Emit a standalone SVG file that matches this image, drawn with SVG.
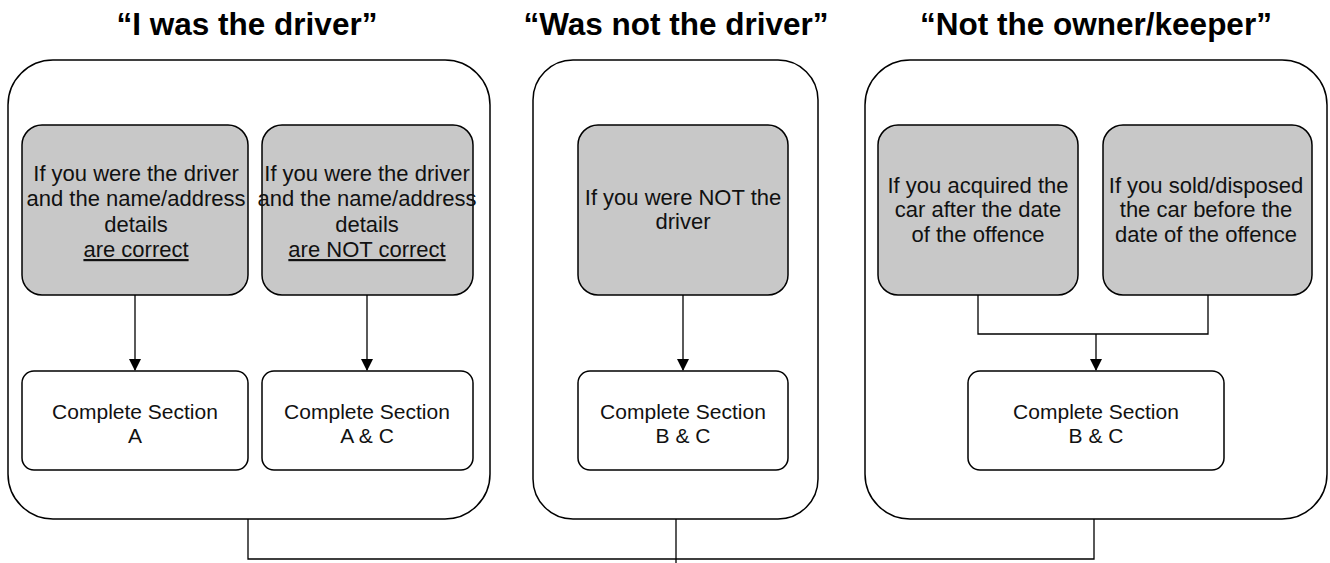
<svg xmlns="http://www.w3.org/2000/svg" width="1330" height="563" viewBox="0 0 1330 563">
<style>
.title{font-family:"Liberation Sans",Arial,sans-serif;font-weight:bold;font-size:31.5px;fill:#000;text-anchor:middle}
.t{font-family:"Liberation Sans",Arial,sans-serif;font-size:22px;fill:#111;text-anchor:middle}
.s{font-family:"Liberation Sans",Arial,sans-serif;font-size:21px;fill:#111;text-anchor:middle}
.cont{fill:#fff;stroke:#000;stroke-width:1.5}
.gray{fill:#c8c8c8;stroke:#000;stroke-width:1.5}
.white{fill:#fff;stroke:#000;stroke-width:1.5}
.ln{fill:none;stroke:#000;stroke-width:1.3}
.u{text-decoration:underline}
</style>
<defs>
<marker id="arr" markerWidth="12" markerHeight="16" refX="11" refY="6" orient="auto" markerUnits="userSpaceOnUse">
<path d="M0,0 L12,6 L0,12 Z" fill="#000"/>
</marker>
</defs>
<rect width="1330" height="563" fill="#fff"/>
<text class="title" x="247" y="35">“I was the driver”</text>
<text class="title" x="676" y="35">“Was not the driver”</text>
<text class="title" x="1096" y="35">“Not the owner/keeper”</text>

<g id="container1"><rect class="cont" x="8" y="60" width="482" height="459" rx="45"/></g>
<g id="container2"><rect class="cont" x="533" y="60" width="285" height="459" rx="40"/></g>
<g id="container3"><rect class="cont" x="865" y="60" width="462" height="459" rx="45"/></g>

<g id="q1"><rect class="gray" x="22" y="125" width="226" height="170" rx="20"/>
<text class="t" x="136" y="181">If you were the driver</text>
<text class="t" x="136" y="206">and the name/address</text>
<text class="t" x="136" y="232">details</text>
<text class="t u" x="136" y="257">are correct</text></g>
<g id="q2"><rect class="gray" x="262" y="125" width="211" height="170" rx="20"/>
<text class="t" x="367" y="181">If you were the driver</text>
<text class="t" x="367" y="206">and the name/address</text>
<text class="t" x="367" y="232">details</text>
<text class="t u" x="367" y="257">are NOT correct</text></g>
<g id="q3"><rect class="gray" x="578" y="125" width="210" height="170" rx="20"/>
<text class="t" x="683" y="205">If you were NOT the</text>
<text class="t" x="683" y="229">driver</text></g>
<g id="q4"><rect class="gray" x="878" y="125" width="200" height="170" rx="20"/>
<text class="t" x="978" y="193">If you acquired the</text>
<text class="t" x="978" y="217">car after the date</text>
<text class="t" x="978" y="242">of the offence</text></g>
<g id="q5"><rect class="gray" x="1103" y="125" width="209" height="170" rx="20"/>
<text class="t" x="1206" y="193">If you sold/disposed</text>
<text class="t" x="1206" y="217">the car before the</text>
<text class="t" x="1206" y="242">date of the offence</text></g>

<g id="s1"><rect class="white" x="22" y="371" width="226" height="99" rx="12"/>
<text class="s" x="135" y="419">Complete Section</text>
<text class="s" x="135" y="443">A</text></g>
<g id="s2"><rect class="white" x="262" y="371" width="211" height="99" rx="12"/>
<text class="s" x="367" y="419">Complete Section</text>
<text class="s" x="367" y="443">A &amp; C</text></g>
<g id="s3"><rect class="white" x="578" y="371" width="210" height="99" rx="12"/>
<text class="s" x="683" y="419">Complete Section</text>
<text class="s" x="683" y="443">B &amp; C</text></g>
<g id="s4"><rect class="white" x="968" y="371" width="256" height="99" rx="12"/>
<text class="s" x="1096" y="419">Complete Section</text>
<text class="s" x="1096" y="443">B &amp; C</text></g>

<g id="connectors">
<line class="ln" x1="135" y1="295" x2="135" y2="370" marker-end="url(#arr)"/>
<line class="ln" x1="367" y1="295" x2="367" y2="370" marker-end="url(#arr)"/>
<line class="ln" x1="683" y1="295" x2="683" y2="370" marker-end="url(#arr)"/>
<path class="ln" d="M978,295 V334 H1208 V295"/>
<line class="ln" x1="1096" y1="334" x2="1096" y2="370" marker-end="url(#arr)"/>
<path class="ln" d="M248,519 V559 H1094 V519"/>
<line class="ln" x1="676" y1="519" x2="676" y2="563"/>
</g>
</svg>
